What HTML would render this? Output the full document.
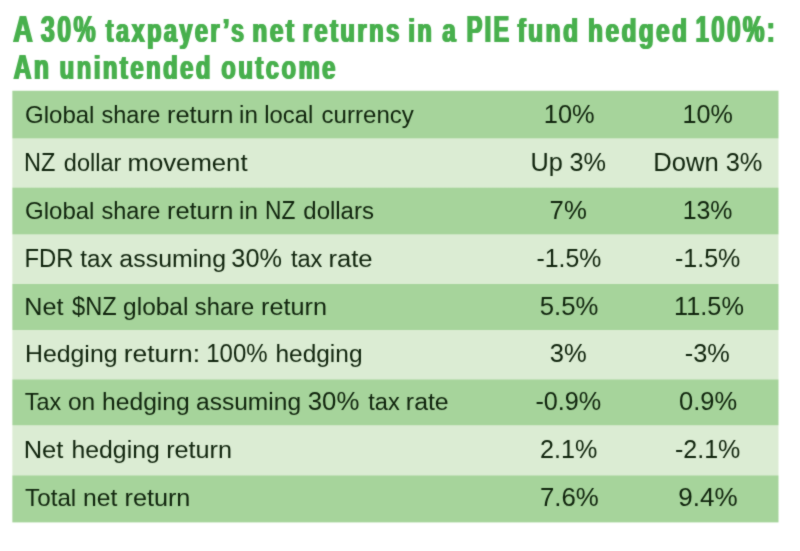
<!DOCTYPE html>
<html lang="en">
<head>
<meta charset="utf-8">
<title>A 30% taxpayer’s net returns in a PIE fund hedged 100%: An unintended outcome</title>
<style>
  html, body { margin: 0; padding: 0; background: #ffffff; }
  body { width: 800px; height: 551px; position: relative; overflow: hidden;
         font-family: "Liberation Sans", sans-serif; filter: url(#soft); }
  span { display: inline-block; white-space: nowrap; line-height: 1; transform-origin: 0 0; }
  html { width: 800px; height: 551px; overflow: hidden; }
  h1 { position: absolute; left: 13px; top: 12px; margin: 0; white-space: nowrap;
       transform: scaleX(0.7); transform-origin: 0 0;
       font-size: 33.5px; font-weight: bold; color: #48b04d; line-height: 37px; letter-spacing:3.5px;text-shadow:1.2px 0 0,-1.2px 0 0; }
  h1 .c { font-size: 36px; }
  h1 .m { font-size: 35px; }
  table { position: absolute; left: 12px; top: 90px; width: 767px; height: 433px;
          border-collapse: collapse; border-spacing: 0; table-layout: fixed;
          font-size: 23px; color: #10240d; 
          background:
      linear-gradient(to bottom, rgba(255,255,255,0.75) 1px, rgba(255,255,255,0) 1px),
      linear-gradient(to top, rgba(255,255,255,0.6) 1px, rgba(255,255,255,0) 1px),
      linear-gradient(to left, rgba(255,255,255,0.5) 1px, rgba(255,255,255,0) 1px),
      linear-gradient(to right, rgba(255,255,255,0.35) 1px, rgba(255,255,255,0) 1px),
      linear-gradient(to bottom, #a6d49b 0.0px, #a6d49b 47.8px, #dbecd3 48.8px, #dbecd3 97.2px, #a6d49b 98.2px, #a6d49b 143.8px, #dbecd3 144.8px, #dbecd3 193.5px, #a6d49b 194.5px, #a6d49b 239.5px, #dbecd3 240.5px, #dbecd3 289.0px, #a6d49b 290.0px, #a6d49b 334.7px, #dbecd3 335.7px, #dbecd3 385.0px, #a6d49b 386.0px, #a6d49b 433.0px); }
  td { padding: 0; vertical-align: middle; white-space: nowrap; }
  td.l { width: 475px; padding-left: 13px; }
  td.n { width: 139px; text-align: center; }
  td .c { font-size: 25px; }
  td .m { font-size: 24px; }
</style>
</head>
<body>
<svg width="0" height="0" style="position:absolute" aria-hidden="true" focusable="false"><defs><filter id="soft" x="0" y="0" width="100%" height="100%" color-interpolation-filters="sRGB"><feConvolveMatrix order="3" kernelMatrix="0.03 0.08 0.03 0.08 0.560 0.08 0.03 0.08 0.03" divisor="1" edgeMode="duplicate" preserveAlpha="false"/></filter></defs></svg>
<h1><span class="c" style="transform:translate(0.27px,0.00px) scaleX(1.0782)">A</span> <span class="c" style="transform:translate(-2.07px,0.00px) scaleX(0.9883)">30%</span> <span style="transform:translate(-5.51px,0.00px) scaleX(1.0020)">taxpayer’s</span> <span style="transform:translate(-9.00px,0.00px) scaleX(1.0376)">net</span> <span style="transform:translate(-11.11px,0.00px) scaleX(1.0108)">returns</span> <span style="transform:translate(-13.09px,0.00px) scaleX(1.0057)">in</span> <span style="transform:translate(-13.74px,0.00px) scaleX(1.0229)">a</span> <span class="c" style="transform:translate(-13.98px,0.00px) scaleX(0.9336)">PIE</span> <span style="transform:translate(-22.20px,0.00px) scaleX(1.0390)">fund</span> <span style="transform:translate(-21.23px,0.00px) scaleX(1.0322)">hedged</span> <span class="c" style="transform:translate(-20.98px,0.00px) scaleX(0.9586)">100%:</span><br>
<span class="m" style="transform:translate(0.97px,0.00px) scaleX(1.0072)">An</span> <span style="transform:translate(0.73px,0.00px) scaleX(1.0153)">unintended</span> <span style="transform:translate(2.52px,0.00px) scaleX(1.0156)">outcome</span></h1>
<table>
  <tr style="height:47px"><td class="l"><span class="m" style="transform:translate(0.05px,1.91px) scaleX(1.0000)">Global</span> <span style="transform:translate(0.52px,1.91px) scaleX(1.0224)">share</span> <span style="transform:translate(1.94px,1.91px) scaleX(1.1053)">return</span> <span style="transform:translate(8.04px,1.91px) scaleX(1.0500)">in</span> <span style="transform:translate(9.26px,1.91px) scaleX(1.0339)">local</span> <span style="transform:translate(12.57px,1.91px) scaleX(1.0460)">currency</span></td><td class="n"><span class="c" style="transform:translate(-1.22px,1.91px) scaleX(1.0159)">10%</span></td><td class="n"><span class="c" style="transform:translate(-1.39px,1.91px) scaleX(1.0053)">10%</span></td></tr>
  <tr style="height:50px"><td class="l"><span class="c" style="transform:translate(-1.09px,1.19px) scaleX(0.9426)">NZ</span> <span style="transform:translate(-1.19px,1.19px) scaleX(1.0227)">dollar</span> <span style="transform:translate(0.50px,1.19px) scaleX(1.1182)">movement</span></td><td class="n"><span class="c" style="transform:translate(-2.47px,1.19px) scaleX(1.0104)">Up</span> <span class="c" style="transform:translate(-1.43px,1.19px) scaleX(1.0104)">3%</span></td><td class="n"><span class="c" style="transform:translate(-2.72px,1.19px) scaleX(1.0240)">Down</span> <span class="c" style="transform:translate(-0.32px,1.19px) scaleX(1.0166)">3%</span></td></tr>
  <tr style="height:46px"><td class="l"><span class="m" style="transform:translate(0.05px,0.98px) scaleX(1.0000)">Global</span> <span style="transform:translate(0.52px,0.98px) scaleX(1.0224)">share</span> <span style="transform:translate(1.94px,0.98px) scaleX(1.1053)">return</span> <span style="transform:translate(8.04px,0.98px) scaleX(1.0500)">in</span> <span class="c" style="transform:translate(9.99px,0.98px) scaleX(0.9115)">NZ</span> <span style="transform:translate(8.31px,0.98px) scaleX(1.0417)">dollars</span></td><td class="n"><span class="c" style="transform:translate(-2.43px,0.98px) scaleX(1.0294)">7%</span></td><td class="n"><span class="c" style="transform:translate(-1.36px,0.98px) scaleX(0.9947)">13%</span></td></tr>
  <tr style="height:50px"><td class="l"><span class="c" style="transform:translate(-0.61px,0.77px) scaleX(0.9531)">FDR</span> <span style="transform:translate(-2.74px,0.77px) scaleX(1.0500)">tax</span> <span style="transform:translate(-0.64px,0.77px) scaleX(1.0833)">assuming</span> <span class="c" style="transform:translate(6.35px,0.77px) scaleX(1.0104)">30%</span> <span style="transform:translate(9.92px,0.77px) scaleX(1.0250)">tax</span> <span style="transform:translate(10.42px,0.77px) scaleX(1.1149)">rate</span></td><td class="n"><span class="c" style="transform:translate(-1.54px,0.77px) scaleX(0.9921)">-1.5%</span></td><td class="n"><span class="c" style="transform:translate(-1.73px,0.77px) scaleX(1.0000)">-1.5%</span></td></tr>
  <tr style="height:46px"><td class="l"><span class="m" style="transform:translate(-0.80px,0.56px) scaleX(1.0496)">Net</span> <span class="c" style="transform:translate(3.06px,0.56px) scaleX(0.9459)">$NZ</span> <span style="transform:translate(1.11px,0.56px) scaleX(1.0638)">global</span> <span style="transform:translate(4.87px,0.56px) scaleX(1.0314)">share</span> <span style="transform:translate(7.06px,0.56px) scaleX(1.0965)">return</span></td><td class="n"><span class="c" style="transform:translate(-2.25px,0.56px) scaleX(1.0273)">5.5%</span></td><td class="n"><span class="c" style="transform:translate(-0.90px,0.56px) scaleX(1.0113)">11.5%</span></td></tr>
  <tr style="height:50px"><td class="l"><span class="m" style="transform:translate(-0.02px,-0.66px) scaleX(1.0350)">Hedging</span> <span style="transform:translate(2.78px,-0.66px) scaleX(1.1474)">return:</span> <span class="c" style="transform:translate(12.21px,-0.66px) scaleX(0.9590)">100%</span> <span style="transform:translate(11.44px,-0.66px) scaleX(1.0635)">hedging</span></td><td class="n"><span class="c" style="transform:translate(-2.16px,-0.66px) scaleX(1.0219)">3%</span></td><td class="n"><span class="c" style="transform:translate(-2.17px,-0.66px) scaleX(1.0118)">-3%</span></td></tr>
  <tr style="height:45px"><td class="l"><span class="m" style="transform:translate(-0.19px,-0.36px) scaleX(0.9726)">Tax</span> <span style="transform:translate(-1.02px,-0.36px) scaleX(1.0652)">on</span> <span style="transform:translate(0.96px,-0.36px) scaleX(1.0730)">hedging</span> <span style="transform:translate(7.00px,-0.36px) scaleX(1.0677)">assuming</span> <span class="c" style="transform:translate(13.76px,-0.36px) scaleX(1.0301)">30%</span> <span style="transform:translate(18.29px,-0.36px) scaleX(1.0250)">tax</span> <span style="transform:translate(18.85px,-0.36px) scaleX(1.0811)">rate</span></td><td class="n"><span class="c" style="transform:translate(-2.55px,-0.36px) scaleX(1.0079)">-0.9%</span></td><td class="n"><span class="c" style="transform:translate(-1.92px,-0.36px) scaleX(1.0182)">0.9%</span></td></tr>
  <tr style="height:51px"><td class="l"><span class="m" style="transform:translate(-1.33px,-0.58px) scaleX(1.0638)">Net</span> <span style="transform:translate(2.43px,-0.58px) scaleX(1.0794)">hedging</span> <span style="transform:translate(9.16px,-0.58px) scaleX(1.0965)">return</span></td><td class="n"><span class="c" style="transform:translate(-1.97px,-0.58px) scaleX(1.0046)">2.1%</span></td><td class="n"><span class="c" style="transform:translate(-1.73px,-0.58px) scaleX(1.0000)">-2.1%</span></td></tr>
  <tr style="height:46px"><td class="l"><span class="m" style="transform:translate(0.10px,-1.34px) scaleX(1.0082)">Total</span> <span style="transform:translate(0.89px,-1.34px) scaleX(1.0744)">net</span> <span style="transform:translate(4.49px,-1.34px) scaleX(1.0965)">return</span></td><td class="n"><span class="c" style="transform:translate(-2.01px,-1.34px) scaleX(1.0320)">7.6%</span></td><td class="n"><span class="c" style="transform:translate(-2.71px,-1.34px) scaleX(1.0411)">9.4%</span></td></tr>
</table>
</body>
</html>
